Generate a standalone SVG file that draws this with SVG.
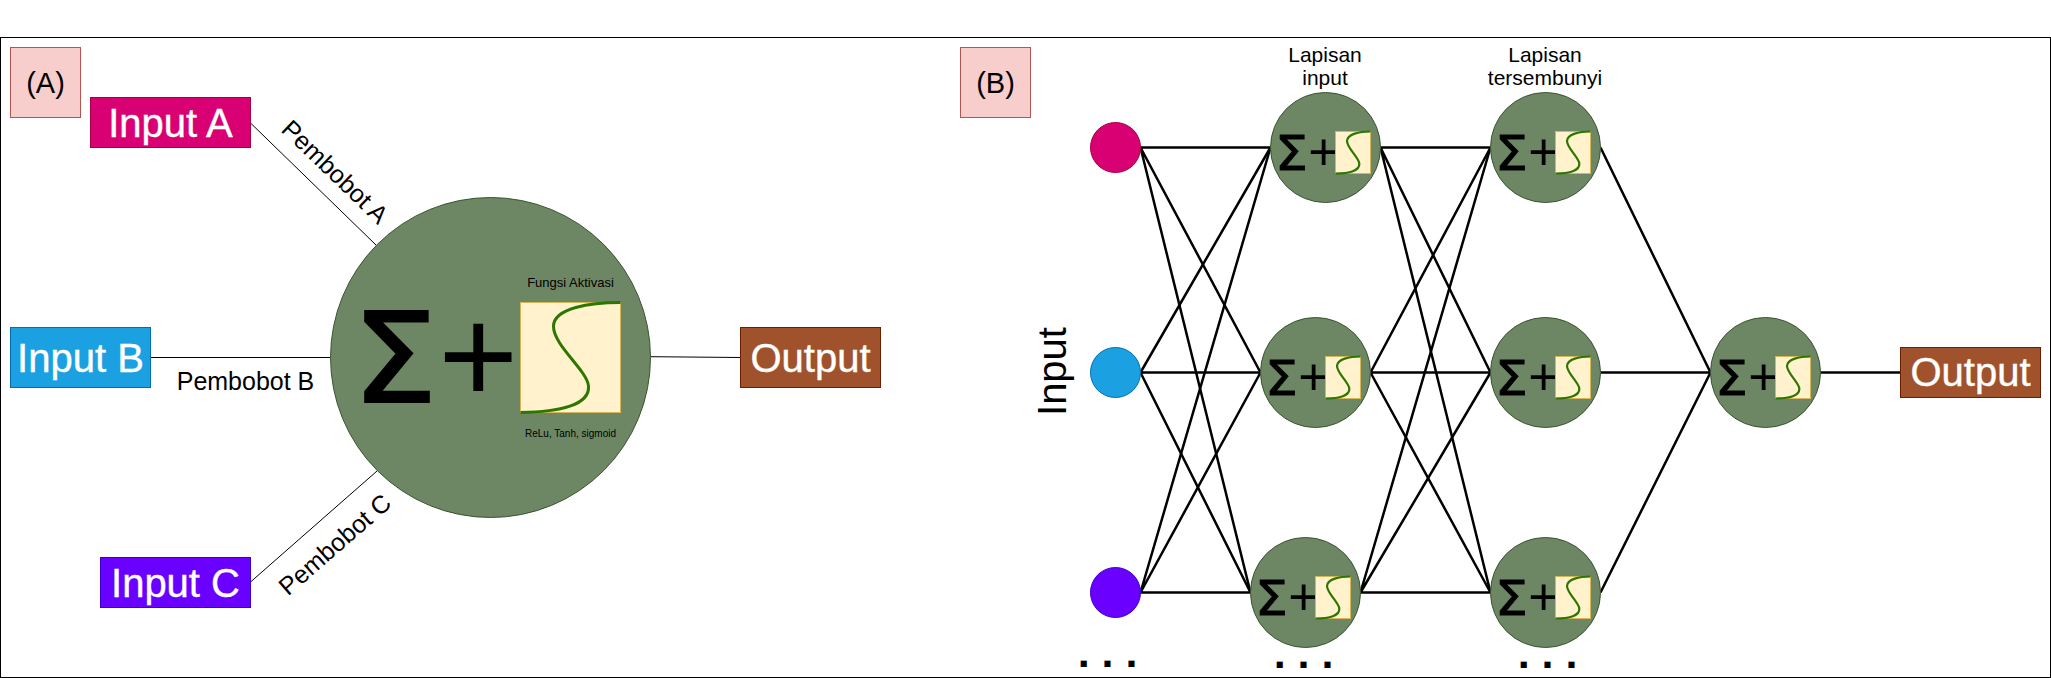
<svg xmlns="http://www.w3.org/2000/svg" width="2051" height="678" viewBox="0 0 2051 678">
<style>
text{font-family:"Liberation Sans",Arial,sans-serif;fill:#000}
.m{text-anchor:middle}
.w{fill:#fff;stroke:#fff;stroke-width:.4;font-size:40px;text-anchor:middle}
.tag{fill:#f8cecc;stroke:#b85450}
.n{fill:#6d8764;stroke:#3a5431}
.act{fill:#fff2cc;stroke:#d6b656}
.curve{fill:none;stroke:#2d7600;stroke-width:3}
.sc{fill:none;stroke:#2d7600;stroke-width:2.2}
.l1{stroke:#000;stroke-width:1;fill:none}
.l2{stroke:#000;stroke-width:2.5;fill:none}
.sg{font-family:"DejaVu Sans",sans-serif;stroke:#000}
.sig1{font-size:47.7px;stroke-width:.8}
.sig2{font-size:52.7px}
.dots{font-size:43px;font-weight:bold;text-anchor:middle}
.lab{font-size:25px;text-anchor:middle}
.cap{font-size:21px;text-anchor:middle}
</style>
<defs>
<path id="mini" d="M0 42C14 42 24.3 39.3 23.8 32C23.3 26 11.4 16.4 11.5 9.5C11.8 2.5 24 0 35 0"/>
</defs>
<rect id="frame" x="0.5" y="37.5" width="2050" height="640" fill="#fff" stroke="#000"/>
<g id="connectors">
<g class="l1">
<path d="M250.5 123L376 245"/>
<path d="M150.5 357.5H330.5"/>
<path d="M250.5 582L377 471"/>
<path d="M650.5 356.7L740.5 357.5"/>
</g>
<g class="l2">
<path d="M1140.5 147.5L1270.5 147.5M1140.5 147.5L1260.5 372.5M1140.5 147.5L1250.5 592.5"/>
<path d="M1140.5 372.5L1270.5 147.5M1140.5 372.5L1260.5 372.5M1140.5 372.5L1250.5 592.5"/>
<path d="M1140.5 592.5L1270.5 147.5M1140.5 592.5L1260.5 372.5M1140.5 592.5L1250.5 592.5"/>
<path d="M1380.5 147.5L1490.5 147.5M1380.5 147.5L1490.5 372.5M1380.5 147.5L1490.5 592.5"/>
<path d="M1370.5 372.5L1490.5 147.5M1370.5 372.5L1490.5 372.5M1370.5 372.5L1490.5 592.5"/>
<path d="M1360.5 592.5L1490.5 147.5M1360.5 592.5L1490.5 372.5M1360.5 592.5L1490.5 592.5"/>
<path d="M1600.5 147.5L1710.5 372.5M1600.5 372.5L1710.5 372.5M1600.5 592.5L1710.5 372.5"/>
<path d="M1820.5 372.5L1900.5 372.5"/>
</g>
</g>
<g id="tag-a"><rect class="tag" x="10.5" y="47.5" width="70" height="70"/><text class="m" x="45.5" y="93" font-size="29">(A)</text></g>
<g id="input-a"><rect x="90.5" y="97.5" width="160" height="50" fill="#d80073" stroke="#a50040"/><text class="w" x="170.5" y="136.5">Input A</text></g>
<g id="input-b"><rect x="10.5" y="327.5" width="140" height="60" fill="#1ba1e2" stroke="#006eaf"/><text class="w" x="80.5" y="371.5">Input B</text></g>
<g id="input-c"><rect x="100.5" y="557.5" width="150" height="50" fill="#6a00ff" stroke="#3700cc"/><text class="w" x="175.5" y="596.5">Input C</text></g>
<g id="neuron-main">
<circle class="n" cx="490.5" cy="357.5" r="160"/>
<text x="352" y="401.7"><tspan class="sg" font-size="124" stroke-width="2" textLength="85.4" lengthAdjust="spacingAndGlyphs">Σ</tspan><tspan dx=".8" dy="1" font-size="137">+</tspan></text>
<rect class="act" x="520.5" y="302.5" width="100" height="110"/>
<path class="curve" d="M520.5 412.5C560 412 590 405 588.5 386C587 370 553 345 553.5 326C554 308 590 302.5 620.5 302.5"/>
<text class="m" x="570.5" y="287" font-size="13">Fungsi Aktivasi</text>
<text class="m" x="570.5" y="437" font-size="10">ReLu, Tanh, sigmoid</text>
</g>
<g id="output-a"><rect x="740.5" y="327.5" width="140" height="60" fill="#a0522d" stroke="#6d1f00"/><text class="w" x="810.5" y="371.5">Output</text></g>
<text class="lab" transform="translate(329 178) rotate(44)">Pembobot A</text>
<text class="lab" x="245.5" y="390">Pembobot B</text>
<text class="lab" transform="translate(340.5 551) rotate(-41)">Pembobot C</text>

<g id="tag-b"><rect class="tag" x="960.5" y="47.5" width="70" height="70"/><text class="m" x="995.5" y="93" font-size="29">(B)</text></g>
<text class="m" transform="translate(1065.5 371.5) rotate(-90)" font-size="40">Input</text>
<g id="in-1"><circle cx="1115.5" cy="147.5" r="25" fill="#d80073" stroke="#a50040"/></g>
<g id="in-2"><circle cx="1115.5" cy="372.5" r="25" fill="#1ba1e2" stroke="#006eaf"/></g>
<g id="in-3"><circle cx="1115.5" cy="592.5" r="25" fill="#6a00ff" stroke="#3700cc"/></g>
<text class="cap" x="1325" y="61.7">Lapisan</text><text class="cap" x="1325" y="84.7">input</text>
<text class="cap" x="1545" y="61.7">Lapisan</text><text class="cap" x="1545" y="84.7">tersembunyi</text>
<g id="n11"><circle class="n" cx="1325.5" cy="147.5" r="55"/><text x="1275" y="170.4"><tspan class="sg sig1" textLength="32.9" lengthAdjust="spacingAndGlyphs">Σ</tspan><tspan class="sig2" dx=".3">+</tspan></text><rect class="act" x="1335.5" y="131.5" width="35" height="42"/><use href="#mini" class="sc" x="1335.5" y="131.5"/></g>
<g id="n12"><circle class="n" cx="1315.5" cy="372.5" r="55"/><text x="1265" y="395.4"><tspan class="sg sig1" textLength="32.9" lengthAdjust="spacingAndGlyphs">Σ</tspan><tspan class="sig2" dx=".3">+</tspan></text><rect class="act" x="1325.5" y="356.5" width="35" height="42"/><use href="#mini" class="sc" x="1325.5" y="356.5"/></g>
<g id="n13"><circle class="n" cx="1305.5" cy="592.5" r="55"/><text x="1255" y="615.4"><tspan class="sg sig1" textLength="32.9" lengthAdjust="spacingAndGlyphs">Σ</tspan><tspan class="sig2" dx=".3">+</tspan></text><rect class="act" x="1315.5" y="576.5" width="35" height="42"/><use href="#mini" class="sc" x="1315.5" y="576.5"/></g>
<g id="n21"><circle class="n" cx="1545.5" cy="147.5" r="55"/><text x="1495" y="170.4"><tspan class="sg sig1" textLength="32.9" lengthAdjust="spacingAndGlyphs">Σ</tspan><tspan class="sig2" dx=".3">+</tspan></text><rect class="act" x="1555.5" y="131.5" width="35" height="42"/><use href="#mini" class="sc" x="1555.5" y="131.5"/></g>
<g id="n22"><circle class="n" cx="1545.5" cy="372.5" r="55"/><text x="1495" y="395.4"><tspan class="sg sig1" textLength="32.9" lengthAdjust="spacingAndGlyphs">Σ</tspan><tspan class="sig2" dx=".3">+</tspan></text><rect class="act" x="1555.5" y="356.5" width="35" height="42"/><use href="#mini" class="sc" x="1555.5" y="356.5"/></g>
<g id="n23"><circle class="n" cx="1545.5" cy="592.5" r="55"/><text x="1495" y="615.4"><tspan class="sg sig1" textLength="32.9" lengthAdjust="spacingAndGlyphs">Σ</tspan><tspan class="sig2" dx=".3">+</tspan></text><rect class="act" x="1555.5" y="576.5" width="35" height="42"/><use href="#mini" class="sc" x="1555.5" y="576.5"/></g>
<g id="n31"><circle class="n" cx="1765.5" cy="372.5" r="55"/><text x="1715" y="395.4"><tspan class="sg sig1" textLength="32.9" lengthAdjust="spacingAndGlyphs">Σ</tspan><tspan class="sig2" dx=".3">+</tspan></text><rect class="act" x="1775.5" y="356.5" width="35" height="42"/><use href="#mini" class="sc" x="1775.5" y="356.5"/></g>
<g id="output-b"><rect x="1900.5" y="347.5" width="140" height="50" fill="#a0522d" stroke="#6d1f00"/><text class="w" x="1970.5" y="385.5">Output</text></g>
<text class="dots" x="1107.5" y="667">. . .</text>
<text class="dots" x="1303.5" y="668">. . .</text>
<text class="dots" x="1547.5" y="668">. . .</text>
</svg>
